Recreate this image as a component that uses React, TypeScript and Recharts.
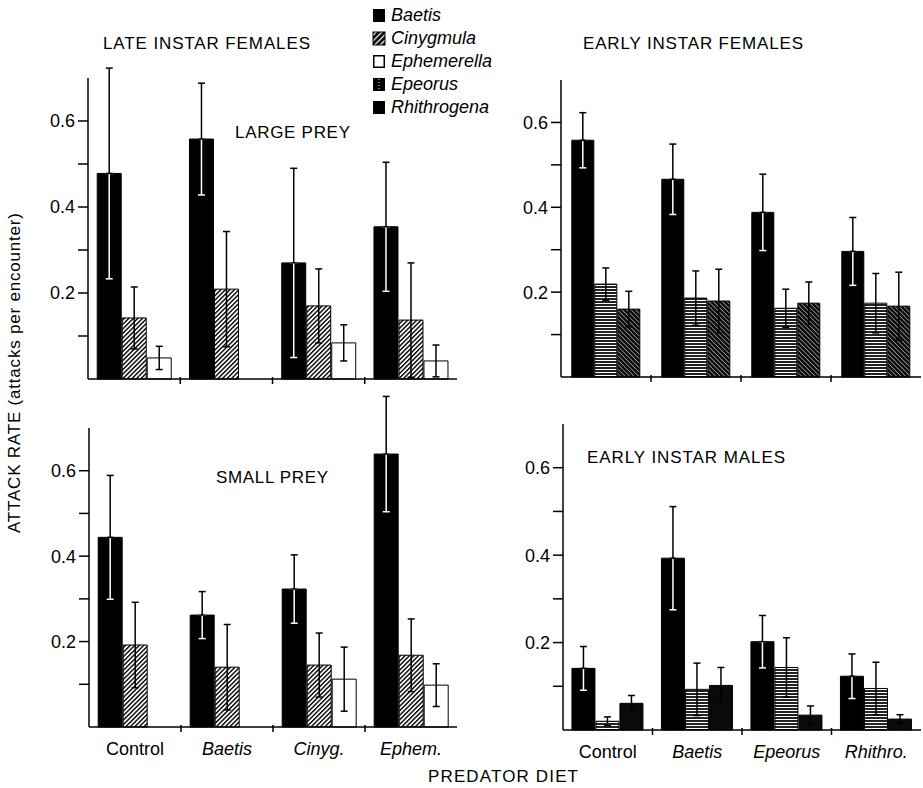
import React from "react";
import { Bar, BarChart, ErrorBar, XAxis, YAxis } from "recharts";

// predator diets (x categories)
const lateDiets = ["Control", "Baetis", "Cinyg.", "Ephem."];
const earlyDiets = ["Control", "Baetis", "Epeorus", "Rhithro."];
const speciesNames = ["Baetis", "Cinygmula", "Ephemerella", "Epeorus", "Rhithrogena"];
const yTicks = [0.1, 0.2, 0.3, 0.4, 0.5, 0.6];
const labelledTicks = [0.2, 0.4, 0.6];

// late instar females, large prey
const largeBaetis = [0.478, 0.558, 0.27, 0.354];
const largeBaetisErr = [0.245, 0.13, 0.22, 0.15];
const largeCinyg = [0.142, 0.209, 0.17, 0.137];
const largeCinygErr = [0.072, 0.134, 0.086, 0.133];
const largeEphem = [0.049, null, 0.084, 0.042];
const largeEphemErr = [0.027, null, 0.042, 0.037];

// late instar females, small prey
const smallBaetis = [0.444, 0.262, 0.323, 0.639];
const smallBaetisErr = [0.145, 0.055, 0.08, 0.135];
const smallCinyg = [0.192, 0.14, 0.145, 0.168];
const smallCinygErr = [0.1, 0.1, 0.075, 0.085];
const smallEphem = [null, null, 0.112, 0.098];
const smallEphemErr = [null, null, 0.075, 0.05];

// early instar females
const efBaetis = [0.558, 0.466, 0.388, 0.296];
const efBaetisErr = [0.065, 0.083, 0.09, 0.08];
const efEpeorus = [0.219, 0.186, 0.162, 0.174];
const efEpeorusErr = [0.038, 0.064, 0.045, 0.07];
const efRhithro = [0.16, 0.179, 0.174, 0.167];
const efRhithroErr = [0.042, 0.075, 0.05, 0.08];

// early instar males
const emBaetis = [0.141, 0.393, 0.202, 0.123];
const emBaetisErr = [0.05, 0.118, 0.06, 0.051];
const emEpeorus = [0.02, 0.093, 0.143, 0.095];
const emEpeorusErr = [0.01, 0.06, 0.068, 0.06];
const emRhithro = [0.061, 0.102, 0.034, 0.025];
const emRhithroErr = [0.018, 0.041, 0.021, 0.01];

type Num = number | null;

// black bars get a white whisker inside the bar and a black one above it
function buildRows(diets: string[], series: { key: string; vals: Num[]; errs: Num[] }[]) {
  return diets.map((diet, i) => {
    const row: Record<string, unknown> = { diet };
    series.forEach(({ key, vals, errs }) => {
      const e = errs[i];
      row[key] = vals[i];
      row[key + "Err"] = e;
      row[key + "Lo"] = e == null ? null : [e, 0];
      row[key + "Hi"] = e == null ? null : [0, e];
    });
    return row;
  });
}

const largeRows = buildRows(lateDiets, [
  { key: "baetis", vals: largeBaetis, errs: largeBaetisErr },
  { key: "cinyg", vals: largeCinyg, errs: largeCinygErr },
  { key: "ephem", vals: largeEphem, errs: largeEphemErr },
]);
const smallRows = buildRows(lateDiets, [
  { key: "baetis", vals: smallBaetis, errs: smallBaetisErr },
  { key: "cinyg", vals: smallCinyg, errs: smallCinygErr },
  { key: "ephem", vals: smallEphem, errs: smallEphemErr },
]);
const efRows = buildRows(earlyDiets, [
  { key: "baetis", vals: efBaetis, errs: efBaetisErr },
  { key: "epeorus", vals: efEpeorus, errs: efEpeorusErr },
  { key: "rhithro", vals: efRhithro, errs: efRhithroErr },
]);
const emRows = buildRows(earlyDiets, [
  { key: "baetis", vals: emBaetis, errs: emBaetisErr },
  { key: "epeorus", vals: emEpeorus, errs: emEpeorusErr },
  { key: "rhithro", vals: emRhithro, errs: emRhithroErr },
]);

type Series = { key: string; fill: string; split?: boolean };

const lateSeries: Series[] = [
  { key: "baetis", fill: "#000", split: true },
  { key: "cinyg", fill: "url(#hatchCiny)" },
  { key: "ephem", fill: "#fff" },
];
const efSeries: Series[] = [
  { key: "baetis", fill: "#000", split: true },
  { key: "epeorus", fill: "url(#stripeEpeo)" },
  { key: "rhithro", fill: "url(#hatchRhit)" },
];
const emSeries: Series[] = [
  { key: "baetis", fill: "#000", split: true },
  { key: "epeorus", fill: "url(#stripeEpeo)" },
  { key: "rhithro", fill: "#0a0a0a" },
];

const AXIS_W = 60;
const TOP_PAD = 40;
const XAXIS_H = 40;
const FONT = "'Liberation Sans', Arial, Helvetica, sans-serif";

function DietTick(props: any) {
  const { x, y, payload, index, bw, n, showLabel } = props;
  const italic = payload.value !== "Control";
  return (
    <g>
      {index < n - 1 && (
        <line x1={x + bw / 2} x2={x + bw / 2} y1={y - 2} y2={y + 5} stroke="#000" strokeWidth={1.5} />
      )}
      {showLabel && (
        <text
          x={x}
          y={y + 28}
          textAnchor="middle"
          fontSize={18}
          fontStyle={italic ? "italic" : "normal"}
          fill="#000"
        >
          {payload.value}
        </text>
      )}
    </g>
  );
}

function Panel({
  left,
  right,
  top,
  bottom,
  rows,
  series,
  showLabels,
  gap,
}: {
  left: number;
  right: number;
  top: number;
  bottom: number;
  rows: Record<string, unknown>[];
  series: Series[];
  showLabels: boolean;
  gap: string;
}) {
  const plotW = right - left;
  const plotH = bottom - top;
  const bw = plotW / rows.length;
  return (
    <div style={{ position: "absolute", left: left - AXIS_W, top: top - TOP_PAD }}>
      <BarChart
        width={plotW + AXIS_W + 4}
        height={plotH + TOP_PAD + XAXIS_H}
        data={rows}
        margin={{ top: TOP_PAD, right: 4, left: 0, bottom: 0 }}
        barCategoryGap={gap}
        barGap={1}
      >
        <XAxis
          dataKey="diet"
          height={XAXIS_H}
          interval={0}
          tickLine={false}
          tickSize={0}
          tickMargin={0}
          axisLine={{ stroke: "#000", strokeWidth: 1.5 }}
          tick={(p: any) => <DietTick {...p} bw={bw} n={rows.length} showLabel={showLabels} />}
        />
        <YAxis
          type="number"
          domain={[0, 0.7]}
          allowDataOverflow
          ticks={yTicks}
          interval={0}
          width={AXIS_W}
          tickSize={10}
          tickMargin={3}
          axisLine={{ stroke: "#000", strokeWidth: 1.5 }}
          tickLine={{ stroke: "#000", strokeWidth: 1.5 }}
          tick={{ fill: "#000", fontSize: 18 }}
          tickFormatter={(v: number) => (labelledTicks.includes(v) ? v.toFixed(1) : "")}
        />
        {series.map((s) => (
          <Bar
            key={s.key}
            dataKey={s.key}
            fill={s.fill}
            stroke="#000"
            strokeWidth={1}
            isAnimationActive={false}
          >
            {s.split
              ? [
                  <ErrorBar key="lo" dataKey={s.key + "Lo"} stroke="#fff" strokeWidth={1.5} width={3.5} isAnimationActive={false} />,
                  <ErrorBar key="hi" dataKey={s.key + "Hi"} stroke="#000" strokeWidth={1.5} width={3.5} isAnimationActive={false} />,
                ]
              : <ErrorBar dataKey={s.key + "Err"} stroke="#000" strokeWidth={1.5} width={3.5} isAnimationActive={false} />}
          </Bar>
        ))}
      </BarChart>
    </div>
  );
}

function LegendSymbol({ name, x, y }: { name: string; x: number; y: number }) {
  if (name === "Ephemerella")
    return <rect x={x + 0.75} y={y + 0.75} width={10.5} height={11.5} fill="#fff" stroke="#000" strokeWidth={1.5} />;
  if (name === "Cinygmula")
    return <rect x={x} y={y} width={12} height={13} fill="url(#legendCiny)" stroke="#000" strokeWidth={1} />;
  if (name === "Epeorus")
    return (
      <g>
        <rect x={x} y={y} width={12} height={13} fill="#000" />
        <line x1={x + 6} x2={x + 6} y1={y + 1} y2={y + 12} stroke="#fff" strokeWidth={1} strokeDasharray="1 2" />
      </g>
    );
  return <rect x={x} y={y} width={12} height={13} fill="#000" />;
}

function Overlay() {
  return (
    <svg
      width={923}
      height={788}
      style={{ position: "absolute", left: 0, top: 0, pointerEvents: "none", overflow: "visible" }}
      fontFamily={FONT}
    >
      <defs>
        <pattern id="hatchCiny" width={3.2} height={3.2} patternUnits="userSpaceOnUse" patternTransform="rotate(45)">
          <rect width={3.2} height={3.2} fill="#fff" />
          <rect width={1.4} height={3.2} fill="#000" />
        </pattern>
        <pattern id="legendCiny" width={4} height={4} patternUnits="userSpaceOnUse" patternTransform="rotate(45)">
          <rect width={4} height={4} fill="#000" />
          <rect width={1.3} height={4} fill="#fff" />
        </pattern>
        <pattern id="stripeEpeo" width={4} height={3} patternUnits="userSpaceOnUse">
          <rect width={4} height={3} fill="#fff" />
          <rect width={4} height={2} fill="#222" />
        </pattern>
        <pattern id="hatchRhit" width={3.2} height={3.2} patternUnits="userSpaceOnUse" patternTransform="rotate(-45)">
          <rect width={3.2} height={3.2} fill="#0a0a0a" />
          <rect width={0.8} height={3.2} fill="#999" />
        </pattern>
      </defs>

      <text x={103} y={49} fontSize={17} textLength={207} lengthAdjust="spacing">LATE INSTAR FEMALES</text>
      <text x={583} y={49} fontSize={17} textLength={220} lengthAdjust="spacing">EARLY INSTAR FEMALES</text>
      <text x={235} y={138} fontSize={17} textLength={115} lengthAdjust="spacing">LARGE PREY</text>
      <text x={216} y={483} fontSize={17} textLength={112} lengthAdjust="spacing">SMALL PREY</text>
      <text x={587} y={463} fontSize={17} textLength={198} lengthAdjust="spacing">EARLY INSTAR MALES</text>
      <text x={428} y={782} fontSize={17} textLength={150} lengthAdjust="spacing">PREDATOR DIET</text>
      <text
        transform="translate(20, 373) rotate(-90)"
        textAnchor="middle"
        fontSize={17}
        textLength={320}
        lengthAdjust="spacing"
      >
        ATTACK RATE (attacks per encounter)
      </text>

      {speciesNames.map((name, i) => {
        const cy = 15 + i * 23;
        return (
          <g key={name}>
            <LegendSymbol name={name} x={373} y={cy - 6} />
            <text x={391} y={cy + 6} fontSize={18} fontStyle="italic">
              {name}
            </text>
          </g>
        );
      })}
    </svg>
  );
}

export default function App() {
  return (
    <div
      style={{
        position: "absolute",
        left: 0,
        top: 0,
        width: 923,
        height: 788,
        overflow: "hidden",
        background: "#fff",
        fontFamily: FONT,
      }}
    >
      <style>{`.recharts-wrapper [clip-path]{clip-path:none !important}.recharts-surface{overflow:visible}`}</style>
      <Panel left={88} right={457} top={78} bottom={379} rows={largeRows} series={lateSeries} showLabels={false} gap="10%" />
      <Panel left={561} right={921} top={80} bottom={377} rows={efRows} series={efSeries} showLabels={false} gap="12%" />
      <Panel left={89} right={457} top={428} bottom={727} rows={smallRows} series={lateSeries} showLabels gap="10%" />
      <Panel left={563} right={921} top={424} bottom={730} rows={emRows} series={emSeries} showLabels gap="10%" />
      <Overlay />
    </div>
  );
}
